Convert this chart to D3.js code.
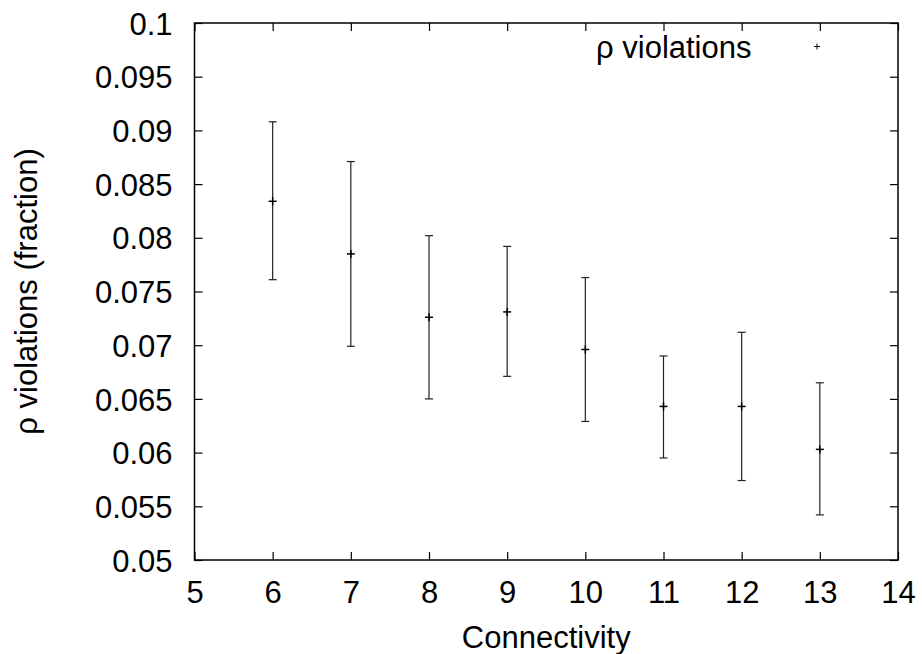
<!DOCTYPE html>
<html>
<head>
<meta charset="utf-8">
<script src="https://cdn.jsdelivr.net/npm/d3@7"></script>
<style>
  html, body { margin: 0; padding: 0; background: #fff; }
  svg { display: block; }
  text { font-family: "Liberation Sans", Arial, Helvetica, sans-serif; fill: #000; }
</style>
</head>
<body>
<svg id="chart" width="922" height="654"></svg>
<script>
// ---- data ----
const connectivity = [6, 7, 8, 9, 10, 11, 12, 13];
const meanValues   = [0.0834, 0.0785, 0.0726, 0.0731, 0.0696, 0.0643, 0.0643, 0.0603];
const lowValues    = [0.0761, 0.0699, 0.0650, 0.0671, 0.0629, 0.0595, 0.0574, 0.0542];
const highValues   = [0.0908, 0.0871, 0.0802, 0.0792, 0.0763, 0.0690, 0.0712, 0.0665];
const xTicks = [5, 6, 7, 8, 9, 10, 11, 12, 13, 14];
const yTicks = [0.05, 0.055, 0.06, 0.065, 0.07, 0.075, 0.08, 0.085, 0.09, 0.095, 0.1];
const seriesName = "ρ violations";
const xTitle = "Connectivity";
const yTitle = "ρ violations (fraction)";

// ---- layout ----
const svg = d3.select("#chart");
const L = 194.5, R = 898, T = 23, B = 560;
const x = d3.scaleLinear().domain([5, 14]).range([L, R]);
const y = d3.scaleLinear().domain([0.05, 0.1]).range([B, T]);
const fontSize = 31;
const tickLen = 8;

const fmt = v => String(+v.toFixed(3));

// bottom axis (ticks inward)
const gx = svg.append("g").attr("transform", `translate(0,${B})`)
  .call(d3.axisBottom(x).tickValues(xTicks).tickSizeInner(-tickLen).tickSizeOuter(0).tickPadding(21).tickFormat(d => d));
// top axis mirrored
const gxt = svg.append("g").attr("transform", `translate(0,${T})`)
  .call(d3.axisTop(x).tickValues(xTicks).tickSizeInner(-tickLen).tickSizeOuter(0).tickFormat(""));
// left axis
const gy = svg.append("g").attr("transform", `translate(${L},0)`)
  .call(d3.axisLeft(y).tickValues(yTicks).tickSizeInner(-tickLen).tickSizeOuter(0).tickPadding(22).tickFormat(fmt));
// right axis mirrored
const gyr = svg.append("g").attr("transform", `translate(${R},0)`)
  .call(d3.axisRight(y).tickValues(yTicks).tickSizeInner(-tickLen).tickSizeOuter(0).tickFormat(""));

[gx, gxt, gy, gyr].forEach(g => {
  g.select(".domain").remove();
  g.selectAll(".tick line").attr("stroke", "#000").attr("stroke-width", 1.2);
  g.selectAll(".tick text").attr("font-size", fontSize).attr("font-family", "Liberation Sans, Arial, sans-serif").attr("fill", "#000");
});
gx.selectAll(".tick text").attr("dy", "0.71em");
gy.selectAll(".tick text").attr("dy", "0.36em");

// frame
svg.append("rect")
  .attr("x", L).attr("y", T).attr("width", R - L).attr("height", B - T)
  .attr("fill", "none").attr("stroke", "#000").attr("stroke-width", 1.5);

// error bars
const data = connectivity.map((c, i) => ({ c, m: meanValues[i], lo: lowValues[i], hi: highValues[i] }));
const capW = 4, plusW = 4;
const eb = svg.append("g").attr("stroke", "#222").attr("stroke-width", 1.2).attr("fill", "none");
data.forEach(d => {
  const cx = x(d.c);
  eb.append("line").attr("x1", cx).attr("x2", cx).attr("y1", y(d.lo)).attr("y2", y(d.hi));
  eb.append("line").attr("x1", cx - capW).attr("x2", cx + capW).attr("y1", y(d.lo)).attr("y2", y(d.lo));
  eb.append("line").attr("x1", cx - capW).attr("x2", cx + capW).attr("y1", y(d.hi)).attr("y2", y(d.hi));
  // plus marker
  eb.append("line").attr("x1", cx - plusW).attr("x2", cx + plusW).attr("y1", y(d.m)).attr("y2", y(d.m)).attr("stroke", "#000").attr("stroke-width", 1.5);
  eb.append("line").attr("x1", cx).attr("x2", cx).attr("y1", y(d.m) - plusW).attr("y2", y(d.m) + plusW).attr("stroke", "#000").attr("stroke-width", 1.5);
});

// legend
svg.append("text").attr("x", 596).attr("y", 58).attr("font-size", fontSize).text(seriesName);
const lgx = 817, lgy = 46.5;
svg.append("line").attr("x1", lgx - 3).attr("x2", lgx + 3).attr("y1", lgy).attr("y2", lgy).attr("stroke", "#000").attr("stroke-width", 1);
svg.append("line").attr("x1", lgx).attr("x2", lgx).attr("y1", lgy - 3).attr("y2", lgy + 3).attr("stroke", "#000").attr("stroke-width", 1);

// axis titles
svg.append("text").attr("x", (L + R) / 2).attr("y", 648).attr("text-anchor", "middle").attr("font-size", fontSize).text(xTitle);
svg.append("text").attr("transform", `translate(37,${(T + B) / 2}) rotate(-90)`).attr("text-anchor", "middle").attr("font-size", fontSize).text(yTitle);
</script>
</body>
</html>
